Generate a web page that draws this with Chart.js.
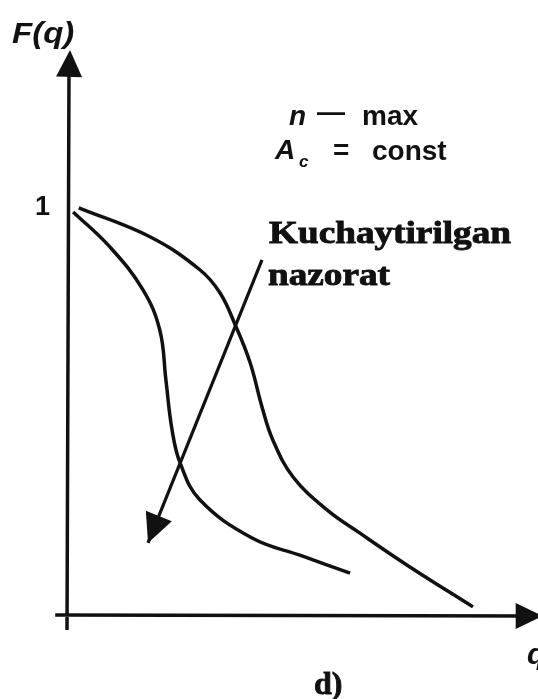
<!DOCTYPE html>
<html>
<head>
<meta charset="utf-8">
<script src="https://cdn.jsdelivr.net/npm/chart.js@4"></script>
<style>
  html, body { margin: 0; padding: 0; background: #fff; }
  canvas { display: block; }
</style>
</head>
<body>
<canvas id="chart" width="538" height="699"></canvas>
<script>
// curve with the steep drop (left one)
const steepQ = [0.13, 0.91, 1.61, 1.97, 2.10, 2.23, 2.40, 2.82, 3.93, 4.99, 6.01];
const steepF = [0.99, 0.904, 0.799, 0.700, 0.577, 0.455, 0.374, 0.283, 0.189, 0.145, 0.103];

// flatter curve that drops later (right one)
const lateQ = [0.25, 1.76, 2.82, 3.25, 3.57, 3.89, 4.14, 4.37, 4.80, 5.52, 6.22, 7.28, 8.62];
const lateF = [1.0, 0.929, 0.848, 0.791, 0.713, 0.619, 0.511, 0.430, 0.339, 0.258, 0.201, 0.118, 0.020];

// direction arrow, tail -> head
const arrowQ = [4.14, 1.72];
const arrowF = [0.872, 0.177];

const yTicks = [1];
const yTitle = "F(q)";
const xTitle = "q";
const caption = "d)";
const noteLines = ["Kuchaytirilgan", "nazorat"];

const toPoints = (xs, ys) => xs.map((x, i) => ({ x: x, y: ys[i] }));

const SANS = "'Liberation Sans', Arial, sans-serif";
const SERIF = "'Liberation Serif', 'Times New Roman', serif";

function triangle(ctx, tipX, tipY, fromX, fromY, len, half) {
  const a = Math.atan2(tipY - fromY, tipX - fromX);
  const bx = tipX - len * Math.cos(a);
  const by = tipY - len * Math.sin(a);
  ctx.beginPath();
  ctx.moveTo(tipX, tipY);
  ctx.lineTo(bx + half * Math.sin(a), by - half * Math.cos(a));
  ctx.lineTo(bx - half * Math.sin(a), by + half * Math.cos(a));
  ctx.closePath();
  ctx.fill();
}

// axes with arrowheads, drawn before the curves
const axesPlugin = {
  id: "axes",
  beforeDatasetsDraw(chart) {
    const { ctx, scales } = chart;
    const x0 = scales.x.getPixelForValue(0);
    const y0 = scales.y.getPixelForValue(0);
    const left = scales.x.getPixelForValue(-0.25);
    const right = scales.x.getPixelForValue(10.1);
    const bottom = scales.y.getPixelForValue(-0.037);
    const top = scales.y.getPixelForValue(1.388);
    ctx.save();
    ctx.strokeStyle = "#111";
    ctx.fillStyle = "#111";
    ctx.lineWidth = 3.5;
    ctx.beginPath();
    ctx.moveTo(x0, bottom);
    ctx.lineTo(x0 + 2, top + 20);
    ctx.moveTo(left, y0);
    ctx.lineTo(right - 14, y0 + 1);
    ctx.stroke();
    triangle(ctx, x0 + 3, top, x0 + 2, top + 30, 27, 13);
    triangle(ctx, right, y0 + 1, right - 30, y0 + 1, 27, 13);

    ctx.textBaseline = "middle";
    ctx.textAlign = "right";
    ctx.font = "bold 27px " + SANS;
    yTicks.forEach(t => {
      ctx.fillText(String(t), x0 - 17, scales.y.getPixelForValue(t));
    });
    ctx.restore();
  }
};

// arrowhead on the end of the direction arrow
const headPlugin = {
  id: "heads",
  afterDatasetsDraw(chart) {
    const { ctx } = chart;
    chart.data.datasets.forEach((ds, i) => {
      if (!ds.arrowHead) return;
      const pts = chart.getDatasetMeta(i).data;
      const a = pts[pts.length - 2];
      const b = pts[pts.length - 1];
      ctx.save();
      ctx.fillStyle = "#111";
      triangle(ctx, b.x, b.y, a.x, a.y, 29, 14);
      ctx.restore();
    });
  }
};

// titles and annotations
const textPlugin = {
  id: "texts",
  afterDraw(chart) {
    const { ctx } = chart;
    ctx.save();
    ctx.fillStyle = "#111";
    ctx.strokeStyle = "#111";
    ctx.textBaseline = "alphabetic";
    ctx.textAlign = "left";

    ctx.font = "italic bold 30px " + SANS;
    ctx.save();
    ctx.translate(12, 43);
    ctx.scale(1.1, 1);
    ctx.fillText(yTitle, 0, 0);
    ctx.restore();
    ctx.fillText(xTitle, 527, 664);

    ctx.font = "italic bold 28px " + SANS;
    ctx.fillText("n", 289, 125);
    ctx.fillText("A", 275, 159);
    ctx.font = "italic bold 17px " + SANS;
    ctx.fillText("c", 299, 167);
    ctx.font = "bold 28px " + SANS;
    ctx.fillText("\u2014", 317, 121);
    ctx.fillText("max", 362, 125);
    ctx.fillText("=", 333, 159);
    ctx.fillText("const", 372, 160);

    ctx.font = "bold 32px " + SERIF;
    ctx.lineWidth = 0.9;
    const sx = 242 / ctx.measureText(noteLines[0]).width;
    [[243, 269], [285, 268]].forEach(([base, x], i) => {
      ctx.save();
      ctx.translate(x, base);
      ctx.scale(sx, 1);
      ctx.fillText(noteLines[i], 0, 0);
      ctx.strokeText(noteLines[i], 0, 0);
      ctx.restore();
    });

    ctx.font = "bold 32px " + SERIF;
    ctx.fillText(caption, 314, 694);
    ctx.strokeText(caption, 314, 694);
    ctx.restore();
  }
};

const lineStyle = {
  borderColor: "#111",
  borderWidth: 3.5,
  pointRadius: 0,
  fill: false,
  showLine: true,
  tension: 0.4
};

new Chart(document.getElementById("chart").getContext("2d"), {
  type: "scatter",
  data: {
    datasets: [
      { ...lineStyle, label: "steep", data: toPoints(steepQ, steepF) },
      { ...lineStyle, label: "late", data: toPoints(lateQ, lateF) },
      { ...lineStyle, label: "arrow", data: toPoints(arrowQ, arrowF), tension: 0, borderWidth: 3.2, arrowHead: true }
    ]
  },
  options: {
    responsive: false,
    animation: false,
    events: [],
    layout: { padding: { left: 67, right: 0, top: 45, bottom: 84 } },
    scales: {
      x: { type: "linear", min: 0, max: 10, display: false },
      y: { type: "linear", min: 0, max: 1.4, display: false }
    },
    plugins: {
      legend: { display: false },
      tooltip: { enabled: false }
    }
  },
  plugins: [axesPlugin, headPlugin, textPlugin]
});
</script>
</body>
</html>
